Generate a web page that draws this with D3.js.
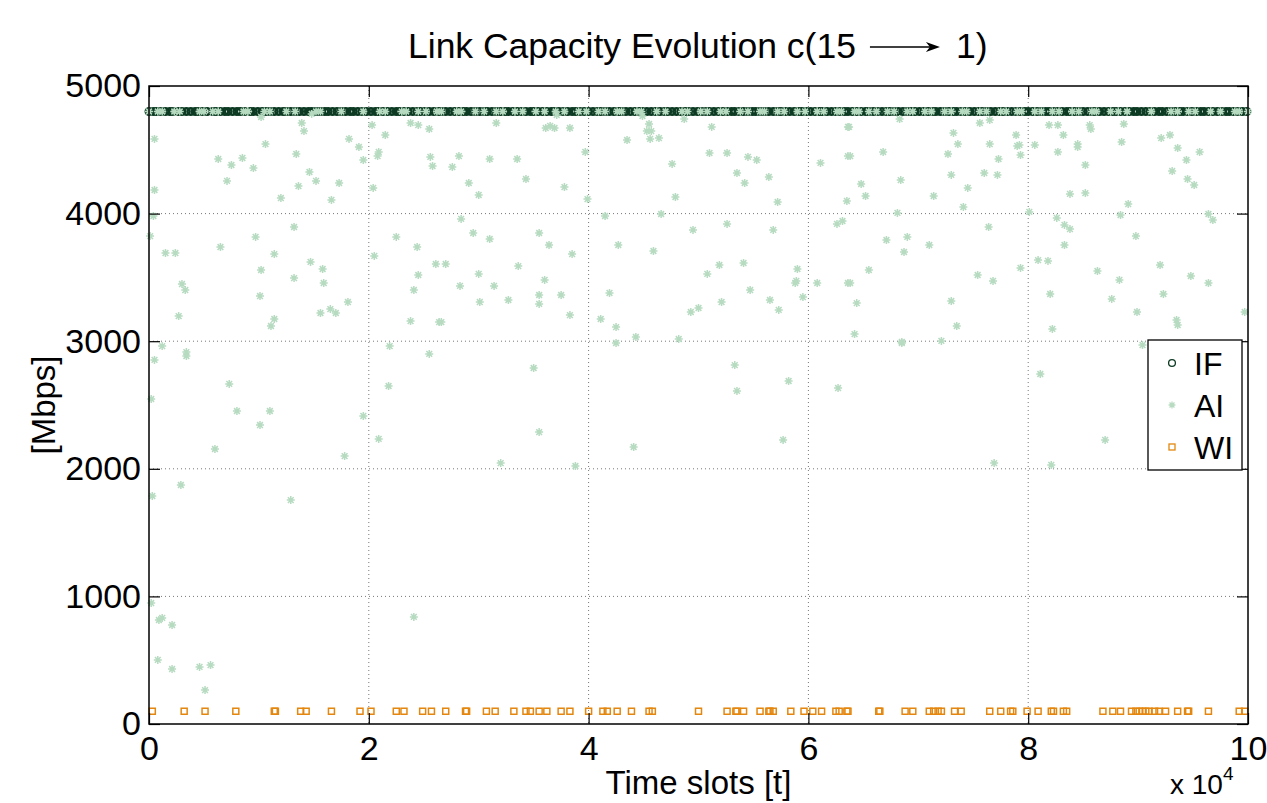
<!DOCTYPE html>
<html>
<head>
<meta charset="utf-8">
<script src="https://cdn.jsdelivr.net/npm/d3@7"></script>
<style>
  body { margin: 0; background: #fff; }
  text { font-family: "Liberation Sans", Arial, sans-serif; fill: #000; }
</style>
</head>
<body>
<div id="chart"></div>
<script>
// time slots are in units of 1e4
var xTicks = [0, 2, 4, 6, 8, 10];
var yTicks = [0, 1000, 2000, 3000, 4000, 5000];
var seriesNames = ["IF", "AI", "WI"];

// IF sits on the 4800 Mbps row
var ifLevel = 4800;
var ifX = [0.00,0.04,0.07,0.11,0.15,0.19,0.22,0.27,0.30,0.34,0.38,0.42,0.45,0.49,0.53,0.58,0.61,0.65,0.69,0.72,0.76,0.80,0.83,0.87,0.92,0.95,0.99,1.03,1.06,1.10,1.14,1.18,1.22,1.25,1.29,1.33,1.37,1.41,1.45,1.48,1.52,1.56,1.60,1.63,1.67,1.71,1.75,1.79,1.83,1.86,1.90,1.94,1.98,2.02,2.06,2.09,2.13,2.17,2.21,2.25,2.28,2.32,2.36,2.40,2.44,2.47,2.51,2.55,2.59,2.63,2.66,2.70,2.74,2.78,2.82,2.86,2.89,2.93,2.97,3.01,3.05,3.08,3.12,3.16,3.20,3.24,3.27,3.31,3.35,3.39,3.43,3.47,3.50,3.54,3.58,3.62,3.66,3.69,3.73,3.77,3.81,3.85,3.88,3.92,3.96,4.00,4.04,4.08,4.11,4.15,4.19,4.23,4.27,4.30,4.34,4.38,4.42,4.46,4.49,4.53,4.57,4.61,4.65,4.69,4.72,4.76,4.80,4.84,4.88,4.91,4.95,4.99,5.03,5.07,5.10,5.14,5.18,5.22,5.26,5.30,5.33,5.37,5.41,5.45,5.49,5.52,5.56,5.60,5.64,5.68,5.72,5.75,5.79,5.83,5.87,5.91,5.94,5.98,6.02,6.06,6.10,6.13,6.17,6.21,6.25,6.29,6.33,6.36,6.40,6.44,6.48,6.52,6.55,6.59,6.63,6.67,6.71,6.74,6.78,6.82,6.86,6.90,6.94,6.97,7.01,7.05,7.09,7.13,7.16,7.20,7.24,7.28,7.32,7.35,7.39,7.43,7.47,7.51,7.55,7.58,7.62,7.66,7.70,7.74,7.77,7.81,7.85,7.89,7.93,7.97,8.00,8.04,8.08,8.12,8.16,8.19,8.23,8.27,8.31,8.35,8.38,8.42,8.46,8.50,8.54,8.58,8.61,8.65,8.69,8.73,8.77,8.80,8.84,8.88,8.92,8.96,8.99,9.03,9.07,9.11,9.15,9.19,9.22,9.26,9.30,9.34,9.38,9.41,9.45,9.49,9.53,9.57,9.60,9.64,9.68,9.72,9.76,9.80,9.83,9.87,9.91,9.95,9.99];

// AI points sitting on the 4800 row
var aiTopX = [0.00,0.08,0.12,0.23,0.28,0.46,0.50,0.58,0.63,0.86,0.90,1.05,1.10,1.25,1.33,1.52,1.56,1.75,1.95,2.10,2.15,2.30,2.34,2.45,2.52,2.62,2.66,2.80,2.84,2.97,3.05,3.16,3.22,3.33,3.40,3.52,3.60,3.70,3.78,3.91,3.98,4.09,4.15,4.26,4.30,4.44,4.48,4.62,4.70,4.85,4.90,5.02,5.08,5.20,5.25,5.38,5.45,5.56,5.60,5.72,5.78,5.90,5.97,6.08,6.14,6.26,6.30,6.42,6.46,6.55,6.62,6.72,6.78,6.90,6.95,7.06,7.12,7.24,7.30,7.40,7.44,7.56,7.62,7.75,7.80,7.90,7.94,8.06,8.12,8.22,8.28,8.40,8.46,8.58,8.62,8.75,8.82,8.90,9.12,9.30,9.36,9.46,9.52,9.66,9.75,9.88,9.92,10.00];

// AI scattered points below the row
var aiX = [0.05,0.05,0.63,0.75,0.85,0.71,0.95,1.06,1.02,1.20,1.34,1.39,1.41,1.46,1.52,1.36,1.73,1.66,1.82,1.91,1.95,1.48,2.03,2.15,2.09,2.08,2.04,2.38,2.45,2.55,2.56,2.58,1.32,0.97,0.01,0.04,2.25,
  0.15,0.24,0.65,1.14,1.02,1.47,1.58,1.32,1.59,0.30,0.33,1.01,0.27,1.81,1.56,1.65,1.70,1.14,1.11,0.12,0.34,0.34,0.05,0.73,0.02,0.80,1.10,1.01,1.95,2.05,2.44,2.61,2.45,2.41,2.38,2.64,2.19,2.55,2.18,2.09,
  0.60,1.78,0.29,0.03,1.29,0.02,0.09,0.12,0.21,0.08,0.21,0.46,0.56,0.51,2.41,
  3.16,3.61,3.65,3.69,3.83,2.82,2.76,3.10,3.35,2.91,3.43,3.00,3.78,3.97,3.99,3.71,4.49,4.55,4.53,4.57,4.56,4.64,4.35,4.87,5.12,5.10,5.26,4.76,5.45,5.53,5.35,5.42,5.64,4.79,5.72,6.11,6.36,6.36,6.35,
  2.84,2.95,3.10,3.55,3.64,3.85,2.70,3.00,3.36,2.83,3.14,3.60,3.01,3.27,3.55,3.55,3.75,3.83,2.66,4.15,4.66,4.95,5.26,5.68,4.27,4.59,5.41,5.19,5.08,5.90,5.89,5.88,4.19,5.47,5.21,5.65,5.73,4.93,5.00,5.95,4.11,4.25,4.43,4.25,4.82,6.08,6.26,6.31,6.36,3.50,5.33,5.35,5.82,6.27,
  3.55,3.20,3.88,4.41,5.77,
  6.37,6.38,6.83,6.68,6.48,6.52,6.84,7.32,7.36,7.27,7.56,7.65,7.65,7.89,7.90,7.92,7.93,7.73,7.30,7.60,7.72,7.45,7.14,7.41,6.81,8.06,8.19,8.27,8.32,8.27,8.45,8.45,8.56,8.57,8.87,8.85,8.52,8.38,8.52,8.91,8.01,8.84,9.21,9.29,9.36,9.44,9.56,9.31,9.45,9.51,9.64,9.68,
  7.64,6.71,6.90,6.87,7.10,6.55,6.38,6.44,6.42,6.85,6.85,7.21,7.30,7.35,7.54,7.68,7.93,8.26,8.33,8.38,8.33,8.09,8.18,8.63,8.83,9.20,8.98,9.48,9.64,8.20,8.76,8.99,9.23,9.35,9.36,9.97,8.22,9.04,8.11,
  7.69,8.21,8.70];
var aiY = [4585,4185,4428,4381,4436,4256,4357,4545,4757,4122,4467,4710,4647,4326,4256,4216,4240,4107,4585,4522,4420,4781,4694,4616,4483,4451,4201,4710,4694,4663,4444,4373,3895,3817,3824,3981,3817,
  3691,3691,3738,3683,3558,3621,3566,3495,3456,3448,3401,3354,3197,3307,3221,3252,3221,3174,3119,2962,2915,2884,2853,2665,2547,2453,2453,2343,2414,3668,3738,3605,3519,3401,3158,3150,2962,2900,2649,2234,
  2155,2100,1873,1787,1755,948,815,831,776,502,431,447,462,266,839,
  4710,4671,4687,4671,4671,4451,4365,4428,4428,4240,4271,4146,4208,4483,4114,4773,4765,4702,4647,4647,4585,4592,4577,4741,4679,4475,4475,4389,4444,4420,4318,4240,4287,4130,4091,4397,4679,4451,4099,
  3958,3848,3801,3848,3754,3683,3605,3527,3589,3433,3433,3480,3307,3323,3362,3292,3362,3205,3150,3981,3997,3872,3919,3872,3754,3707,3613,3597,3527,3566,3472,3456,3378,3401,3307,3323,3245,3229,3260,3346,3174,3111,3033,2986,3017,3456,3919,3942,3456,2790,2813,2610,2688,2633,
  2288,2045,2022,2171,2226,
  4679,4451,4741,4483,4232,4138,4263,4632,4545,4467,4710,4733,4545,4616,4530,4538,4459,4428,4303,4318,4303,4201,4138,4052,4005,4538,4694,4694,4616,4483,4545,4522,4694,4663,4702,4561,4381,4154,4161,4075,4013,3989,4592,4616,4514,4420,4483,4334,4271,4224,3997,3950,
  3895,3793,3817,3699,3754,3558,3456,3299,3056,2994,2986,3002,3315,3119,3519,3472,3574,3966,3911,3879,3754,3636,3629,3550,3480,3597,3824,3511,3456,3370,3331,3229,3370,3166,3127,3229,3096,2970,2743,
  2045,2030,2226];

// WI sits near 100 Mbps
var wiLevel = 100;
var wiX = [0.03,0.32,0.51,0.79,1.14,1.15,1.38,1.43,1.66,1.92,2.02,2.25,2.32,2.49,2.57,2.70,2.88,2.89,3.07,3.15,3.32,3.43,3.47,3.55,3.62,3.75,3.83,4.00,4.13,4.17,4.26,4.39,4.55,4.58,5.00,5.26,5.34,5.35,5.41,5.56,5.64,5.65,5.68,5.84,5.96,6.04,6.12,6.25,6.28,6.35,6.36,6.64,6.65,6.88,6.95,7.10,7.14,7.18,7.21,7.33,7.39,7.65,7.75,7.84,7.86,7.99,8.09,8.21,8.23,8.32,8.35,8.68,8.77,8.84,8.94,8.98,9.01,9.04,9.07,9.10,9.15,9.19,9.25,9.36,9.45,9.46,9.64,9.92,9.97];

var colors = { IF: "#0c3a22", AI: "#b6dbc0", WI: "#e4870f" };

var W = 1267, H = 803;
var margin = { left: 149, top: 86, right: 19, bottom: 79 };
var width = W - margin.left - margin.right,
    height = H - margin.top - margin.bottom;

var svg = d3.select("#chart").append("svg")
    .attr("width", W)
    .attr("height", H);

var g = svg.append("g")
    .attr("transform", "translate(" + margin.left + "," + margin.top + ")");

var x = d3.scaleLinear().domain([0, 10]).range([0, width]);
var y = d3.scaleLinear().domain([0, 5000]).range([height, 0]);

// dotted grid
g.append("g").selectAll("line")
    .data(xTicks.slice(1, -1))
    .enter().append("line")
    .attr("x1", function(d) { return x(d); })
    .attr("x2", function(d) { return x(d); })
    .attr("y1", 0).attr("y2", height)
    .attr("stroke", "#777").attr("stroke-width", 1)
    .attr("stroke-dasharray", "1,3");
g.append("g").selectAll("line")
    .data(yTicks.slice(1, -1))
    .enter().append("line")
    .attr("y1", function(d) { return y(d); })
    .attr("y2", function(d) { return y(d); })
    .attr("x1", 0).attr("x2", width)
    .attr("stroke", "#777").attr("stroke-width", 1)
    .attr("stroke-dasharray", "1,3");

// markers
var star = function(s) {
  var d = s * 0.72;
  return "M" + (-s) + ",0L" + s + ",0M0," + (-s) + "L0," + s +
         "M" + (-d) + "," + (-d) + "L" + d + "," + d +
         "M" + (-d) + "," + d + "L" + d + "," + (-d);
};

g.append("g").selectAll("circle")
    .data(ifX)
    .enter().append("circle")
    .attr("cx", function(d) { return x(d); })
    .attr("cy", y(ifLevel))
    .attr("r", 3.3)
    .attr("fill", "none")
    .attr("stroke", colors.IF)
    .attr("stroke-width", 2.4);

var aiPts = aiTopX.map(function(d) { return [d, ifLevel]; })
    .concat(aiX.map(function(d, i) { return [d, aiY[i]]; }));

g.append("g").selectAll("path")
    .data(aiPts)
    .enter().append("path")
    .attr("transform", function(d) { return "translate(" + x(d[0]) + "," + y(d[1]) + ")"; })
    .attr("d", star(4))
    .attr("fill", "none")
    .attr("stroke", colors.AI)
    .attr("stroke-width", 1.5);

g.append("g").selectAll("rect")
    .data(wiX)
    .enter().append("rect")
    .attr("x", function(d) { return x(d) - 3; })
    .attr("y", y(wiLevel) - 3)
    .attr("width", 6).attr("height", 6)
    .attr("fill", "none")
    .attr("stroke", colors.WI)
    .attr("stroke-width", 1.5);

// axes, ticks pointing inwards on all four sides
var tl = 11;
g.append("g")
    .attr("transform", "translate(0," + height + ")")
    .call(d3.axisBottom(x).tickValues(xTicks).tickSizeInner(-tl).tickSizeOuter(0).tickPadding(12).tickFormat(d3.format("d")));
g.append("g")
    .call(d3.axisLeft(y).tickValues(yTicks).tickSizeInner(-tl).tickSizeOuter(0).tickPadding(8).tickFormat(d3.format("d")));
g.append("g")
    .call(d3.axisTop(x).tickValues(xTicks).tickSizeInner(-tl).tickSizeOuter(0).tickFormat(""));
g.append("g")
    .attr("transform", "translate(" + width + ",0)")
    .call(d3.axisRight(y).tickValues(yTicks).tickSizeInner(-tl).tickSizeOuter(0).tickFormat(""));

g.selectAll(".domain").remove();
g.selectAll(".tick line").attr("stroke", "#000").attr("stroke-width", 1.2);
g.selectAll(".tick text")
    .style("font-size", "34px")
    .style("font-family", "'Liberation Sans', Arial, sans-serif")
    .attr("fill", "#000");

g.append("rect")
    .attr("width", width).attr("height", height)
    .attr("fill", "none")
    .attr("stroke", "#000")
    .attr("stroke-width", 1.5);

// title with long arrow
var tY = 58;
var t1 = svg.append("text")
    .attr("x", 408).attr("y", tY)
    .style("font-size", "35.5px")
    .text("Link Capacity Evolution c(15");
var t1End = 408 + t1.node().getComputedTextLength();
var aX1 = t1End + 14, aX2 = t1End + 84;
svg.append("line")
    .attr("x1", aX1).attr("x2", aX2 - 6)
    .attr("y1", 47).attr("y2", 47)
    .attr("stroke", "#000").attr("stroke-width", 1.3);
svg.append("path")
    .attr("d", "M" + (aX2 - 14) + ",42L" + aX2 + ",47L" + (aX2 - 14) + ",52L" + (aX2 - 10) + ",47Z")
    .attr("fill", "#000");
svg.append("text")
    .attr("x", aX2 + 16).attr("y", tY)
    .style("font-size", "35.5px")
    .text("1)");

// axis labels
svg.append("text")
    .attr("x", margin.left + width / 2).attr("y", 794)
    .attr("text-anchor", "middle")
    .style("font-size", "33px")
    .text("Time slots [t]");
svg.append("text")
    .attr("transform", "translate(55," + (margin.top + height / 2) + ") rotate(-90)")
    .attr("text-anchor", "middle")
    .style("font-size", "33px")
    .text("[Mbps]");

// x 10^4 multiplier
var mult = svg.append("text")
    .attr("x", 1170).attr("y", 794)
    .style("font-size", "28px");
mult.append("tspan").text("x 10");
mult.append("tspan").attr("dy", -14).style("font-size", "19px").text("4");

// legend
var lg = svg.append("g").attr("transform", "translate(1148,340)");
lg.append("rect")
    .attr("width", 94).attr("height", 130)
    .attr("fill", "#fff").attr("stroke", "#000").attr("stroke-width", 1.3);
seriesNames.forEach(function(name, i) {
  var cy = 23 + i * 42;
  if (name === "IF") {
    lg.append("circle").attr("cx", 24).attr("cy", cy).attr("r", 3.4)
      .attr("fill", "none").attr("stroke", colors.IF).attr("stroke-width", 1.3);
  } else if (name === "AI") {
    lg.append("path").attr("transform", "translate(24," + cy + ")").attr("d", star(3.4))
      .attr("fill", "none").attr("stroke", colors.AI).attr("stroke-width", 1.3);
  } else {
    lg.append("rect").attr("x", 21).attr("y", cy - 3).attr("width", 6).attr("height", 6)
      .attr("fill", "none").attr("stroke", colors.WI).attr("stroke-width", 1.3);
  }
  lg.append("text").attr("x", 46).attr("y", cy + 12)
    .style("font-size", "32px").text(name);
});
</script>
</body>
</html>
